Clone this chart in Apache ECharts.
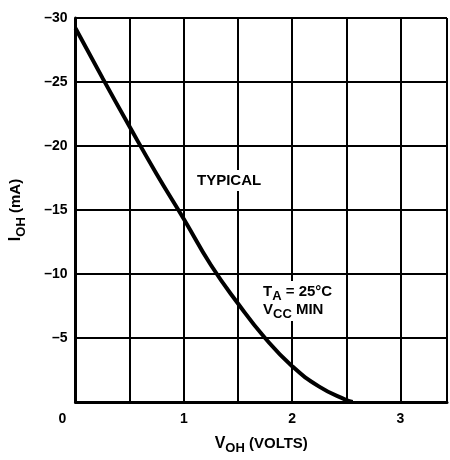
<!doctype html>
<html>
<head>
<meta charset="UTF-8">
<title>IOH vs VOH</title>
<script src="https://cdn.jsdelivr.net/npm/echarts@6/dist/echarts.min.js"></script>
<style>
  html, body { margin: 0; padding: 0; background: #fff; }
  #main { width: 450px; height: 460px; }
</style>
</head>
<body>
<div id="main"></div>
<script>
// output voltage (V) and output current (mA)
var voh = [0, 0.25, 0.5, 0.75, 1.0, 1.25, 1.5, 1.75, 2.0, 2.25, 2.5, 2.56];
var ioh = [-29.2, -25.3, -21.5, -17.8, -14.3, -10.7, -7.7, -5.0, -2.8, -1.2, -0.15, 0];

var xTickLabels = ['0', '1', '2', '3'];   // only whole volts are labelled
var yTickLabels = ['-30', '-25', '-20', '-15', '-10', '-5'];

var FONT = 'Liberation Sans';
var pts = [];
for (var i = 0; i < voh.length; i++) {
  pts.push([voh[i], ioh[i]]);
}

var chart = echarts.init(document.getElementById('main'));
var option = {
  backgroundColor: '#fff',
  animation: false,
  grid: { left: 70, right: 0, top: 18, bottom: 57 },
  xAxis: {
    type: 'value',
    min: 0,
    max: 3.43,
    interval: 0.5,
    name: '{v|V}{s|OH}{n| (VOLTS)}',
    nameLocation: 'middle',
    nameGap: 30,
    nameTextStyle: {
      rich: {
        v: { fontFamily: FONT, fontWeight: 'bold', fontSize: 16, color: '#000' },
        s: { fontFamily: FONT, fontWeight: 'bold', fontSize: 13, color: '#000', padding: [10, 0, 0, 0] },
        n: { fontFamily: FONT, fontWeight: 'bold', fontSize: 15, color: '#000' }
      }
    },
    axisLine: { show: true, lineStyle: { color: '#000', width: 3 } },
    axisTick: { show: false },
    splitLine: { show: true, lineStyle: { color: '#000', width: 2 } },
    axisLabel: {
      margin: 10,
      fontFamily: FONT,
      fontWeight: 'bold',
      fontSize: 14,
      color: '#000',
      formatter: function (v) {
        var s = String(Math.round(v));
        if (Math.abs(v - Math.round(v)) > 1e-6) return '';
        if (xTickLabels.indexOf(s) < 0) return '';
        if (v === 0) return '{z|0}';
        return s;
      },
      rich: {
        z: { fontFamily: FONT, fontWeight: 'bold', fontSize: 14, color: '#000', padding: [0, 26, 0, 0] }
      }
    }
  },
  yAxis: {
    type: 'value',
    inverse: true,
    min: -30,
    max: 0,
    interval: 5,
    name: '{i|I}{s|OH}{n| (mA)}',
    nameLocation: 'middle',
    nameRotate: 90,
    nameGap: 48,
    nameTextStyle: {
      rich: {
        i: { fontFamily: FONT, fontWeight: 'bold', fontSize: 16, color: '#000' },
        s: { fontFamily: FONT, fontWeight: 'bold', fontSize: 13, color: '#000', padding: [10, 0, 0, 0] },
        n: { fontFamily: FONT, fontWeight: 'bold', fontSize: 15, color: '#000' }
      }
    },
    axisLine: { show: true, lineStyle: { color: '#000', width: 3 } },
    axisTick: { show: false },
    splitLine: { show: true, lineStyle: { color: '#000', width: 2 } },
    axisLabel: {
      margin: 8,
      fontFamily: FONT,
      fontWeight: 'bold',
      fontSize: 14,
      color: '#000',
      formatter: function (v) {
        var s = String(v);
        return yTickLabels.indexOf(s) >= 0 ? s.replace('-', '\u2013') : '';
      }
    }
  },
  graphic: [
    {
      type: 'text',
      left: 196,
      top: 170,
      z: 10,
      style: {
        text: 'TYPICAL',
        fontFamily: FONT,
        fontWeight: 'bold',
        fontSize: 15,
        fill: '#000',
        backgroundColor: '#fff',
        padding: [3, 1, 3, 1]
      }
    },
    {
      type: 'text',
      left: 262,
      top: 281,
      z: 10,
      style: {
        text: '{m|T}{s|A}{m| = 25\u00b0C}\n{m|V}{s|CC}{m| MIN}',
        backgroundColor: '#fff',
        padding: [2, 1, 2, 1],
        rich: {
          m: { fontFamily: FONT, fontWeight: 'bold', fontSize: 15, fill: '#000', color: '#000', lineHeight: 18 },
          s: { fontFamily: FONT, fontWeight: 'bold', fontSize: 13, fill: '#000', color: '#000', padding: [8, 0, 0, 0], lineHeight: 13 }
        }
      }
    }
  ],
  series: [{
    type: 'line',
    data: pts,
    smooth: true,
    showSymbol: false,
    lineStyle: { color: '#000', width: 4 },
    z: 5
  }]
};
chart.setOption(option);
</script>
</body>
</html>
